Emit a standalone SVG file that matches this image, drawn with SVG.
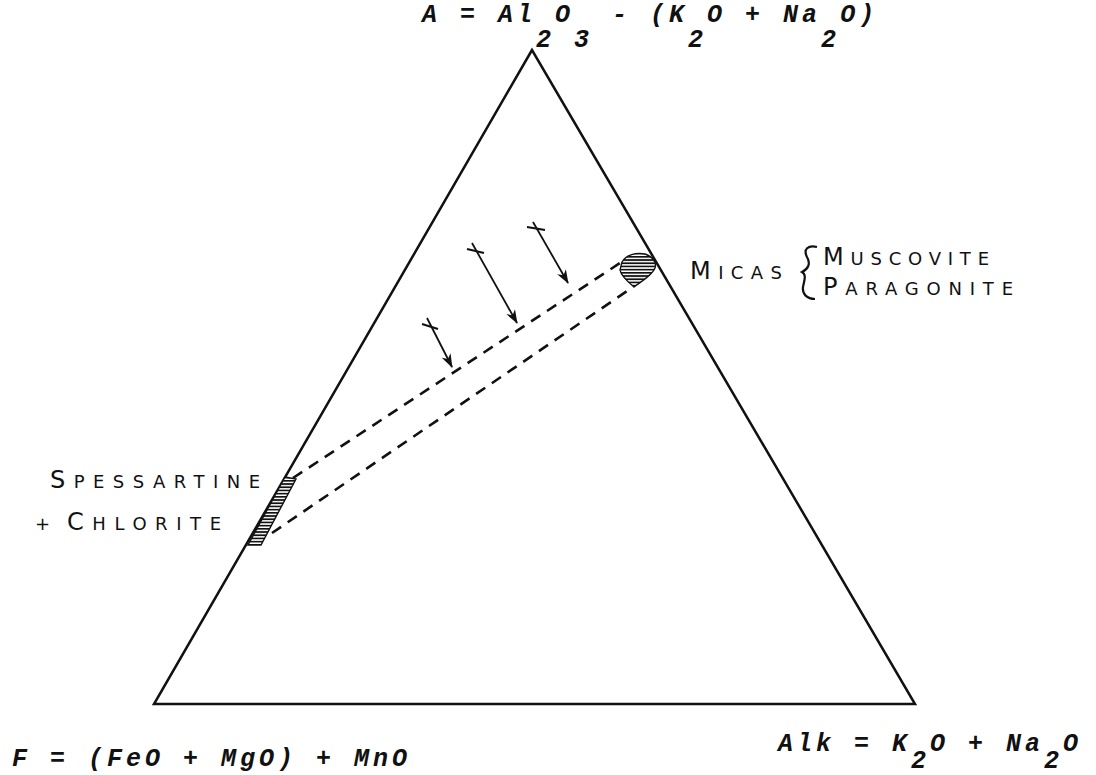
<svg xmlns="http://www.w3.org/2000/svg" width="1096" height="775" viewBox="0 0 1096 775">
<style>
.formula{font-family:"Liberation Mono","DejaVu Sans Mono",monospace;font-style:italic;font-weight:bold;font-size:25px;letter-spacing:4px;fill:#111}
.lbl{font-family:"DejaVu Sans","Liberation Sans",sans-serif;font-size:18px;fill:#111}
.big{font-size:24px}
.edge{fill:none;stroke:#111;stroke-width:2.5;stroke-linejoin:miter}
.dash{fill:none;stroke:#111;stroke-width:2.6;stroke-dasharray:11 8}
.arr{fill:none;stroke:#111;stroke-width:1.8}
.cross{fill:none;stroke:#111;stroke-width:2.2}
.hatch{fill:url(#hp);stroke:#111;stroke-width:1.4}
</style>
<defs>
<pattern id="hp" width="6" height="3.2" patternUnits="userSpaceOnUse">
<rect width="6" height="3.2" fill="#fff"/>
<rect y="0" width="6" height="1.7" fill="#111"/>
</pattern>
<marker id="ah" viewBox="0 0 14 10" refX="13" refY="5" markerWidth="14" markerHeight="10" markerUnits="userSpaceOnUse" orient="auto">
<path d="M0,0 L14,5 L0,10 L4,5 Z" fill="#111"/>
</marker>
</defs>

<g id="triangle">
<polygon class="edge" points="532,50 154,704 915,704"/>
</g>

<g id="label-A">
<text class="formula" x="422" y="22">A = Al<tspan dy="25">2</tspan><tspan dy="-25">O</tspan><tspan dy="25">3</tspan><tspan dy="-25"> - (K</tspan><tspan dy="25">2</tspan><tspan dy="-25">O + Na</tspan><tspan dy="25">2</tspan><tspan dy="-25">O)</tspan></text>
</g>

<g id="label-F">
<text class="formula" x="12" y="766">F = (FeO + MgO) + MnO</text>
</g>

<g id="label-Alk">
<text class="formula" x="778" y="751">Alk = K<tspan dy="17">2</tspan><tspan dy="-17">O + Na</tspan><tspan dy="17">2</tspan><tspan dy="-17">O</tspan></text>
</g>

<g id="micas">
<path class="hatch" d="M622,262 C626,255 636,252 645,254 C652,256 657,262 655,268 C652,276 640,282 634,287 C628,282 621,276 620,270 Z"/>
<text class="lbl" x="690" y="279" textLength="92" lengthAdjust="spacing"><tspan class="big">M</tspan>ICAS</text>
<path d="M817,247 C808,245 803,249 807,257 C811,264 808,269 802,272 C807,275 804,281 803,287 C802,294 807,299 815,299" fill="none" stroke="#111" stroke-width="2.2"/>
<text class="lbl" x="823" y="265" textLength="166" lengthAdjust="spacing"><tspan class="big">M</tspan>USCOVITE</text>
<text class="lbl" x="823" y="295" textLength="190" lengthAdjust="spacing"><tspan class="big">P</tspan>ARAGONITE</text>
</g>

<g id="spessartine">
<path class="hatch" d="M285,477 L296,479 L261,545 L248,545 Z"/>
<text class="lbl" x="50" y="488" textLength="210" lengthAdjust="spacing"><tspan class="big">S</tspan>PESSARTINE</text>
<text class="lbl" x="35" y="530">+</text>
<text class="lbl" x="67" y="530" textLength="154" lengthAdjust="spacing"><tspan class="big">C</tspan>HLORITE</text>
</g>

<g id="points">
<path class="cross" d="M422,324 L438,329"/>
<path class="cross" d="M467,249 L484,253"/>
<path class="cross" d="M527,227 L545,230"/>
</g>

<g id="connectors">
<path class="dash" d="M293,478 L620,263"/>
<path class="dash" d="M272,533 L633,287"/>
<path class="arr" marker-end="url(#ah)" d="M427,318 L452,367"/>
<path class="arr" marker-end="url(#ah)" d="M472,243 L517,323"/>
<path class="arr" marker-end="url(#ah)" d="M533,222 L568,283"/>
</g>
</svg>
